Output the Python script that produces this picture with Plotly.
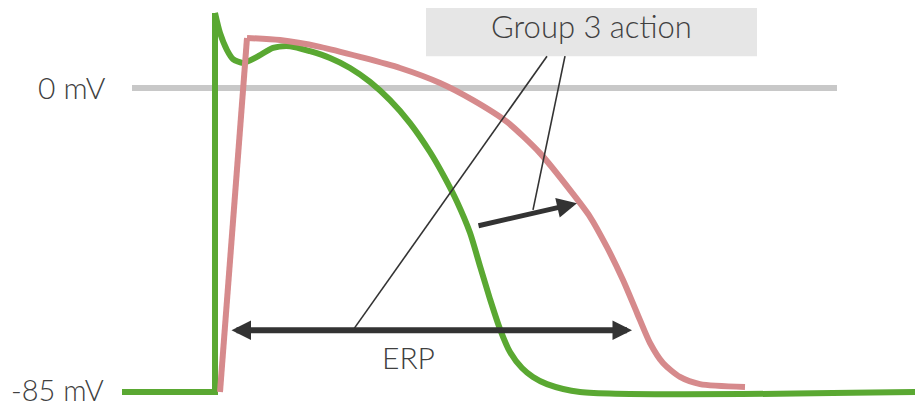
import plotly.graph_objects as go

# time in ms (upstroke of the normal AP at t=0), membrane potential in mV
green_t = [-93, 0, 0, 5, 12, 18, 28, 42, 58, 75, 95, 115, 135, 155, 175, 195, 215,
           230, 242, 255, 265, 275, 285, 295, 307, 318, 332, 365, 708]
green_v = [-85, -85, 21.0, 15.4, 10.6, 8.1, 7.0, 8.7, 11.2, 11.7, 10.3, 8.4, 5.6, 1.7,
           -3.4, -9.8, -17.9, -25.2, -31.8, -40.5, -49.8, -59.0, -67.4, -73.8, -78.3,
           -80.8, -82.8, -85, -85]

pink_t = [5, 32, 65, 105, 145, 185, 225, 258, 292, 325, 358, 375, 392, 408, 422, 435,
          448, 465, 485, 530]
pink_v = [-85, 14.0, 13.4, 11.5, 8.7, 5.6, 1.4, -3.4, -9.5, -18.2, -29.6, -36.0, -44.5,
          -53.7, -62.9, -71.3, -76.9, -80.8, -82.8, -83.6]

zero_line_t = [-83, 622]
zero_line_v = [0, 0]

erp_t = [15, 417]
erp_v = -67.7
shift_from = (262, -38.6)
shift_to = (362, -32.2)
pointer_lines = [((332, 8.9), (138, -67.7)), ((350, 8.9), (318, -34.1))]
box_t = [211, 542]
box_v = [8.9, 24.6]

GREEN = "#5aa832"
PINK = "#d68a8c"
DARK = "#333333"
TEXT = "#404040"
FONT = "Lato"

fig = go.Figure()

fig.add_trace(go.Scatter(x=zero_line_t, y=zero_line_v, mode="lines",
                         line=dict(color="#c8c8c8", width=6)))

# green: baseline + sharp upstroke drawn straight, the rest smoothed
fig.add_trace(go.Scatter(x=green_t[:3], y=green_v[:3], mode="lines",
                         line=dict(color=GREEN, width=6)))
fig.add_trace(go.Scatter(x=green_t[2:], y=green_v[2:], mode="lines",
                         line=dict(color=GREEN, width=6, shape="spline", smoothing=0.7)))

fig.add_trace(go.Scatter(x=pink_t[:2], y=pink_v[:2], mode="lines",
                         line=dict(color=PINK, width=6)))
fig.add_trace(go.Scatter(x=pink_t[1:], y=pink_v[1:], mode="lines",
                         line=dict(color=PINK, width=6, shape="spline", smoothing=0.7)))

fig.add_shape(type="rect", x0=box_t[0], x1=box_t[1], y0=box_v[0], y1=box_v[1],
              fillcolor="#e6e6e6", line=dict(width=0), layer="below")

for (a, b) in pointer_lines:
    fig.add_shape(type="line", x0=a[0], y0=a[1], x1=b[0], y1=b[1],
                  line=dict(color=DARK, width=1.6))

fig.add_annotation(x=erp_t[1], y=erp_v, ax=erp_t[0], ay=erp_v, xref="x", yref="y",
                   axref="x", ayref="y", text="", showarrow=True, arrowhead=2,
                   startarrowhead=2, arrowside="end+start", arrowwidth=6,
                   arrowsize=0.65, startarrowsize=0.65, arrowcolor=DARK)
fig.add_annotation(x=shift_to[0], y=shift_to[1], ax=shift_from[0], ay=shift_from[1],
                   xref="x", yref="y", axref="x", ayref="y", text="", showarrow=True,
                   arrowhead=2, arrowwidth=5, arrowsize=0.8, arrowcolor=DARK)

label_font = dict(family=FONT, size=30, color=TEXT, weight=300)
fig.add_annotation(x=(box_t[0] + box_t[1]) / 2, y=(box_v[0] + box_v[1]) / 2 + 0.6,
                   text="Group 3 action", showarrow=False,
                   font=dict(label_font, size=31))
fig.add_annotation(x=-107, y=0.4, text="0 mV", showarrow=False, xanchor="right",
                   font=label_font)
fig.add_annotation(x=-109, y=-84.4, text="-85 mV", showarrow=False, xanchor="right",
                   font=dict(label_font, size=29))
fig.add_annotation(x=193, y=-75.2, text="ERP", showarrow=False, font=label_font)

# ranges offset by the page's 8px body margin so the drawing lands where it should
fig.update_xaxes(range=[-207, 716], visible=False)
fig.update_yaxes(range=[-91.15, 22.37], visible=False)
fig.update_layout(width=923, height=406, margin=dict(l=0, r=0, t=0, b=0),
                  paper_bgcolor="white", plot_bgcolor="white", showlegend=False)

fig.write_html("out.html")
